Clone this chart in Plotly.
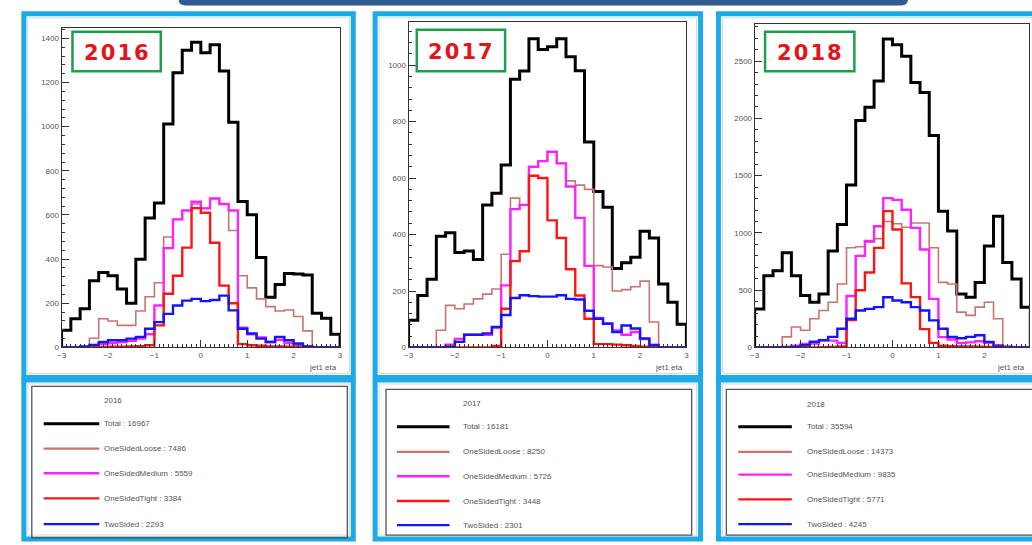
import numpy as np
import plotly.graph_objects as go

W, H = 1032, 545

# ---------------- data ----------------
eta_lo, eta_hi, n_bins = -3.0, 3.0, 30
years = ["2016", "2017", "2018"]
series_names = ["Total", "OneSidedLoose", "OneSidedMedium", "OneSidedTight", "TwoSided"]

total_2016 = [78, 130, 175, 302, 340, 325, 265, 200, 400, 586, 654, 1012, 1244, 1346, 1382,
              1335, 1371, 1252, 1020, 661, 601, 407, 228, 285, 335, 333, 328, 155, 132, 60]
loose_2016 = [0, 0, 0, 42, 130, 120, 100, 100, 165, 230, 293, 500, 580, 620, 650,
              630, 675, 650, 530, 325, 270, 220, 185, 165, 170, 140, 75, 0, 0, 0]
medium_2016 = [0, 0, 0, 5, 15, 20, 25, 30, 40, 60, 190, 450, 580, 620, 660,
               630, 675, 650, 620, 90, 60, 45, 25, 35, 20, 10, 5, 0, 0, 0]
tight_2016 = [0, 0, 0, 0, 2, 3, 4, 5, 6, 10, 100, 243, 325, 452, 631,
              610, 474, 280, 200, 15, 10, 8, 5, 5, 3, 2, 0, 0, 0, 0]
two_2016 = [0, 0, 5, 12, 25, 33, 33, 40, 48, 85, 115, 152, 190, 212, 220,
            210, 215, 235, 168, 85, 63, 40, 25, 48, 33, 18, 5, 0, 0, 0]

total_2017 = [96, 184, 242, 394, 406, 336, 342, 312, 505, 546, 646, 950, 979, 1093, 1055,
              1065, 1093, 1030, 980, 728, 552, 497, 280, 300, 320, 412, 388, 225, 160, 82]
loose_2017 = [0, 0, 0, 61, 149, 137, 154, 172, 189, 207, 330, 529, 505, 640, 660,
              693, 652, 590, 575, 560, 290, 285, 200, 205, 215, 235, 90, 0, 0, 0]
medium_2017 = [0, 0, 0, 0, 10, 30, 45, 45, 45, 70, 220, 490, 505, 640, 660,
               693, 652, 570, 459, 289, 105, 85, 60, 45, 55, 30, 10, 0, 0, 0]
tight_2017 = [0, 0, 0, 0, 0, 0, 0, 0, 0, 5, 137, 306, 341, 608, 600,
              450, 388, 277, 184, 102, 12, 12, 10, 8, 5, 3, 0, 0, 0, 0]
two_2017 = [0, 0, 0, 0, 3, 20, 45, 45, 50, 73, 115, 175, 185, 182, 180,
            180, 185, 172, 170, 130, 102, 84, 55, 78, 67, 32, 8, 0, 0, 0]

total_2018 = [337, 626, 670, 828, 626, 453, 395, 467, 843, 1073, 1419, 1981, 2097, 2327, 2694,
              2644, 2543, 2313, 2227, 1851, 1189, 1016, 467, 439, 568, 886, 1145, 741, 597, 352]
loose_2018 = [0, 0, 0, 93, 179, 150, 251, 323, 395, 554, 871, 880, 920, 950, 1100,
              1080, 1050, 1087, 1087, 871, 568, 554, 309, 280, 352, 395, 251, 0, 0, 0]
medium_2018 = [0, 0, 0, 5, 15, 30, 35, 60, 60, 40, 450, 800, 929, 1059, 1304,
               1289, 1202, 1044, 856, 424, 90, 70, 40, 45, 55, 40, 20, 10, 0, 0]
tight_2018 = [0, 0, 0, 0, 0, 0, 0, 3, 5, 10, 240, 500, 655, 870, 1190,
              1030, 560, 440, 160, 40, 15, 12, 10, 8, 6, 4, 2, 0, 0, 0]
two_2018 = [0, 0, 0, 0, 5, 20, 50, 64, 93, 164, 251, 323, 337, 352, 439,
            410, 395, 352, 323, 237, 164, 93, 80, 93, 107, 49, 10, 0, 0, 0]

counts_2016 = [16967, 7486, 5559, 3384, 2293]
counts_2017 = [16181, 8250, 5726, 3448, 2301]
counts_2018 = [35594, 14373, 9835, 5771, 4245]

y_ticks_2016 = [0, 200, 400, 600, 800, 1000, 1200, 1400]
y_ticks_2017 = [0, 200, 400, 600, 800, 1000]
y_ticks_2018 = [0, 500, 1000, 1500, 2000, 2500]
x_ticks = [-3, -2, -1, 0, 1, 2, 3]

hists = {
    "2016": [total_2016, loose_2016, medium_2016, tight_2016, two_2016],
    "2017": [total_2017, loose_2017, medium_2017, tight_2017, two_2017],
    "2018": [total_2018, loose_2018, medium_2018, tight_2018, two_2018],
}
counts = {"2016": counts_2016, "2017": counts_2017, "2018": counts_2018}
yticks = {"2016": y_ticks_2016, "2017": y_ticks_2017, "2018": y_ticks_2018}

# ---------------- styles ----------------
colors = ["#000000", "#c87570", "#ff22ff", "#ff1414", "#1414ff"]
widths = [3.0, 1.6, 2.4, 2.4, 2.4]
cyan = "#1eaae6"
green = "#1f9e4c"
red_txt = "#e3141c"
tick_col = "#555555"


def fx(px):
    return px / W


def fy(py):
    return 1 - py / H


# panel geometry (pixels)
panels = {
    "2016": dict(x0=57, x1=337.7, ytop=28, xr=[-3, 3], ymax=1448, ydt=40,
                 frame=(19, 351), leg=(27, 345, 390, 543), legline=(39, 95), legtext=98,
                 legrows=[404, 427.7, 452.7, 477.7, 503, 529], yearbox=(68, 157, 32, 72)),
    "2017": dict(x0=406.7, x1=686.7, ytop=22.7, xr=[-3, 3], ymax=1151, ydt=40,
                 frame=(373, 701), leg=(384, 692, 393, 540), legline=(395, 448), legtext=460,
                 legrows=[407, 430.7, 456, 480.7, 505.7, 530], yearbox=(415, 504, 30, 72)),
    "2018": dict(x0=755.5, x1=1032, ytop=24, xr=[-3, -3 + 276.5 / 46.3], ymax=2826, ydt=100,
                 frame=(719, 1045), leg=(727, 1040, 393, 540), legline=(739, 793), legtext=806,
                 legrows=[408, 430.7, 456, 479, 504, 529], yearbox=(766, 856, 32, 72)),
}
ybottom = 350.7

edges = np.linspace(eta_lo, eta_hi, n_bins + 1)

fig = go.Figure()
shapes = []
annotations = []

# top dark bar
bx0, bx1 = fx(175), fx(910)
shapes.append(dict(type="path", xref="paper", yref="paper",
                   path=f"M {bx0},{fy(-3)} L {bx0},{fy(0)} Q {bx0},{fy(5.5)} {fx(182)},{fy(5.5)} "
                        f"L {fx(903)},{fy(5.5)} Q {bx1},{fy(5.5)} {bx1},{fy(0)} L {bx1},{fy(-3)} Z",
                   fillcolor="#2f5b8e", line=dict(width=0), layer="below"))

for i, yr in enumerate(years):
    p = panels[yr]
    ax = "" if i == 0 else str(i + 1)
    xa, ya = "x" + ax, "y" + ax
    for s, vals in enumerate(hists[yr]):
        xs = [edges[0]] + list(edges[:-1]) + [edges[-1]]
        ys = [0] + list(vals) + [0]
        fig.add_trace(go.Scatter(x=xs, y=ys, mode="lines", xaxis=xa, yaxis=ya,
                                 line=dict(shape="hv", color=colors[s], width=widths[s]),
                                 showlegend=False, hoverinfo="skip"))
    axis_common = dict(showgrid=False, zeroline=False, showline=True, linecolor="#333333",
                       linewidth=1, mirror=True, ticks="inside", tickcolor="#333333",
                       tickfont=dict(family="Liberation Sans, Arial", size=8, color=tick_col))
    fig.layout["xaxis" + ax] = dict(
        axis_common, domain=[fx(p["x0"]), fx(p["x1"])], range=p["xr"], anchor=ya,
        tickvals=x_ticks, ticklen=7,
        minor=dict(dtick=0.1, tick0=-3, ticks="inside", ticklen=3.5, tickcolor="#333333"))
    fig.layout["yaxis" + ax] = dict(
        axis_common, domain=[fy(ybottom), fy(p["ytop"])], range=[0, p["ymax"]], anchor=xa,
        tickvals=yticks[yr], ticklen=7,
        minor=dict(dtick=p["ydt"], tick0=0, ticks="inside", ticklen=3.5, tickcolor="#333333"))

    # axis title
    annotations.append(dict(xref="paper", yref="paper", x=fx(min(p["x1"], 1031) - 1), y=fy(371),
                            xanchor="right", yanchor="middle", showarrow=False, text="jet1 eta",
                            font=dict(family="Liberation Sans, Arial", size=8, color=tick_col)))

    # cyan panel frames
    fx0, fx1 = p["frame"]
    for (ya0, ya1) in [(14, 381), (383.5, 544)]:
        shapes.append(dict(type="rect", xref="paper", yref="paper",
                           x0=fx(fx0), x1=fx(fx1), y0=fy(ya0), y1=fy(ya1),
                           line=dict(color=cyan, width=5), layer="below"))
        shapes.append(dict(type="rect", xref="paper", yref="paper",
                           x0=fx(fx0 + 4), x1=fx(fx1 - 4), y0=fy(ya0 + 4), y1=fy(ya1 - 4),
                           line=dict(color="#c9dbe6", width=1), layer="below"))

    # year box
    bx = p["yearbox"]
    shapes.append(dict(type="rect", xref="paper", yref="paper",
                       x0=fx(bx[0]), x1=fx(bx[1]), y0=fy(bx[2]), y1=fy(bx[3]),
                       line=dict(color=green, width=2.5), fillcolor="white", layer="above"))
    annotations.append(dict(xref="paper", yref="paper", x=fx((bx[0] + bx[1]) / 2),
                            y=fy((bx[2] + bx[3]) / 2 + 1), xanchor="center", yanchor="middle",
                            showarrow=False, text="<b>" + "\u200a".join(yr) + "</b>",
                            font=dict(family="DejaVu Sans", size=21, color=red_txt)))

    # legend box
    lx0, lx1, ly0, ly1 = p["leg"]
    shapes.append(dict(type="rect", xref="paper", yref="paper",
                       x0=fx(lx0), x1=fx(min(lx1, 1040)), y0=fy(ly0), y1=fy(ly1),
                       line=dict(color="#555555", width=1.3), layer="above"))
    rows = p["legrows"]
    annotations.append(dict(xref="paper", yref="paper", x=fx(p["legtext"]), y=fy(rows[0]),
                            xanchor="left", yanchor="middle", showarrow=False, text=yr,
                            font=dict(family="Liberation Sans, Arial", size=8, color=tick_col)))
    l0, l1 = p["legline"]
    for s in range(5):
        yy = rows[s + 1]
        shapes.append(dict(type="line", xref="paper", yref="paper",
                           x0=fx(l0), x1=fx(l1), y0=fy(yy), y1=fy(yy),
                           line=dict(color=colors[s], width=max(widths[s], 2.2)), layer="above"))
        annotations.append(dict(xref="paper", yref="paper", x=fx(p["legtext"]), y=fy(yy),
                                xanchor="left", yanchor="middle", showarrow=False,
                                text=f"{series_names[s]} : {counts[yr][s]}",
                                font=dict(family="Liberation Sans, Arial", size=8, color=tick_col)))

fig.update_layout(width=W, height=H, margin=dict(l=0, r=0, t=0, b=0),
                  paper_bgcolor="white", plot_bgcolor="white",
                  shapes=shapes, annotations=annotations, showlegend=False)

fig.write_html("out.html", config={"displayModeBar": False},
               post_script="document.body.style.margin='0px';document.body.style.overflow='hidden';")
